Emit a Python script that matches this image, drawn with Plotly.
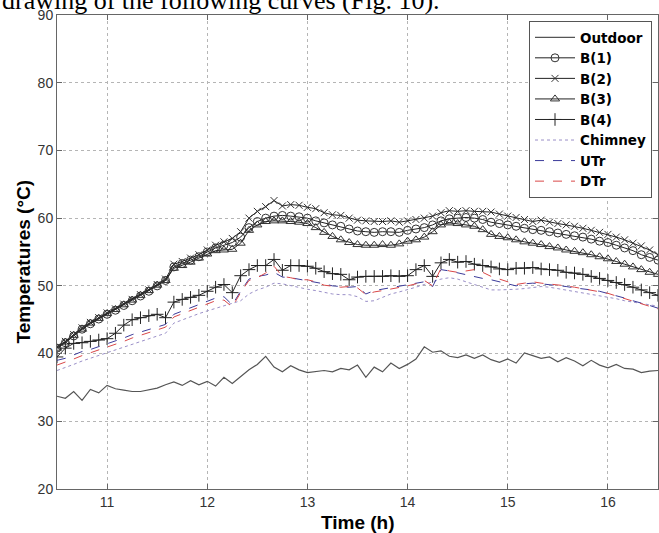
import plotly.graph_objects as go

# time axis: 5-minute samples from 10.5 h to 16.5 h
time_h = [10.5 + k / 12 for k in range(73)]

outdoor = [33.7, 33.4, 34.4, 33.1, 34.7, 34.2, 35.3, 34.8, 34.6, 34.4, 34.4, 34.6, 34.9, 35.4, 35.8, 35.3,
           36.0, 35.4, 35.9, 35.2, 36.5, 35.6, 36.6, 37.6, 38.4, 39.6, 38.0, 37.3, 38.2, 37.6, 37.2, 37.4,
           37.5, 37.3, 37.8, 37.6, 38.3, 36.5, 38.0, 37.3, 38.6, 37.8, 38.4, 39.2, 41.0, 40.2, 40.4, 39.6,
           39.4, 39.8, 39.3, 39.8, 39.1, 38.7, 39.2, 38.6, 40.1, 39.7, 39.3, 39.5, 38.8, 39.4, 38.9, 38.2,
           39.0, 38.3, 37.9, 38.4, 37.8, 37.7, 37.2, 37.4, 37.5]

b1 = [40.8, 41.6, 42.6, 43.6, 44.4, 45.1, 45.8, 46.4, 47.1, 47.8, 48.5, 49.2, 50.0, 50.8, 52.8, 53.3,
      53.8, 54.3, 55.0, 55.6, 56.0, 56.4, 57.2, 58.6, 59.5, 60.0, 60.3, 60.4, 60.3, 60.2, 60.0, 59.6,
      59.3, 59.0, 58.8, 58.4, 58.1, 58.0, 57.9, 58.0, 58.0, 57.9, 58.2, 58.4, 58.6, 59.0, 59.6, 59.9,
      60.0, 60.1, 60.0, 59.8, 59.4, 59.2, 59.0, 58.8, 58.5, 58.3, 58.2, 58.0, 57.8, 57.6, 57.4, 57.2,
      56.9, 56.6, 56.4, 56.0, 55.6, 55.2, 54.6, 54.2, 53.8]

b2 = [41.0, 41.8, 42.8, 43.8, 44.6, 45.3, 46.0, 46.6, 47.3, 48.0, 48.7, 49.4, 50.2, 51.0, 53.2, 53.6,
      54.1, 54.6, 55.3, 56.0, 56.5, 57.0, 58.0, 60.0, 61.0, 61.7, 62.6, 61.8, 62.0, 61.9, 61.6, 61.4,
      60.8, 60.5, 60.4, 60.0, 59.7, 59.6, 59.5, 59.5, 59.6, 59.4, 59.6, 59.8, 60.0, 60.3, 60.8, 61.1,
      61.0, 61.1, 61.0, 61.0, 60.9, 60.6, 60.3, 60.1, 59.8, 59.5, 59.7, 59.4, 59.2, 59.0, 58.8, 58.5,
      58.2, 57.9, 57.6, 57.2, 56.8, 56.3, 55.9, 55.3, 54.6]

b3 = [40.8, 41.7, 42.7, 43.6, 44.5, 45.2, 45.9, 46.5, 47.2, 47.9, 48.6, 49.3, 50.1, 50.8, 52.6, 53.0,
      53.5, 54.1, 54.7, 55.2, 55.3, 55.4, 56.3, 58.2, 59.0, 59.5, 59.6, 59.6, 59.5, 59.4, 59.2, 58.6,
      57.9, 57.3, 56.8, 56.4, 56.1, 56.0, 56.0, 56.1, 56.0, 56.2, 56.6, 56.8, 57.2, 58.0, 59.0, 59.3,
      59.2, 59.0, 58.8, 58.3, 57.6, 57.3, 57.1, 56.8, 56.5, 56.3, 56.1, 55.8, 55.6, 55.3, 55.1, 54.9,
      54.6, 54.3, 54.0, 53.6, 53.2, 52.8, 52.4, 52.0, 51.7]

b4 = [39.5, 40.8, 41.5, 41.6, 41.8, 42.0, 42.2, 43.0, 44.2, 45.0, 45.3, 45.6, 45.8, 45.3, 47.6, 48.0,
      48.3, 48.6, 49.2, 49.8, 50.2, 49.0, 51.5, 52.4, 53.0, 53.0, 53.9, 52.3, 53.0, 53.0, 52.9, 52.6,
      52.1, 51.8, 51.7, 50.9, 51.3, 51.4, 51.4, 51.4, 51.5, 51.4, 51.5, 52.4, 53.0, 51.4, 53.4, 53.9,
      53.5, 53.6, 53.2, 53.0, 52.8, 52.5, 52.4, 52.6, 52.6, 52.7, 52.5, 52.4, 52.3, 52.0, 51.9, 51.7,
      51.4, 51.1, 50.8, 50.5, 50.2, 49.8, 49.4, 49.0, 48.6]

chimney = [37.5, 37.9, 38.4, 38.9, 39.3, 39.7, 40.1, 40.5, 41.0, 41.4, 41.8, 42.2, 42.6, 43.0, 44.5, 45.0,
           45.4, 45.9, 46.3, 46.7, 47.0, 47.4, 47.8, 48.8, 49.4, 49.8, 50.4, 50.3, 50.0, 49.8, 49.5, 49.3,
           49.0, 48.8, 48.7, 48.7, 48.4, 47.7, 47.8, 48.3, 48.8, 49.1, 49.4, 49.8, 50.2, 50.6, 51.0, 51.2,
           51.0, 50.6, 50.2, 49.8, 49.4, 49.4, 49.4, 49.5, 49.6, 49.8, 49.9, 49.8, 49.6, 49.4, 49.2, 49.0,
           48.8, 48.6, 48.4, 48.1, 47.8, 47.6, 47.3, 47.1, 47.0]

utr = [39.0, 39.3, 39.8, 40.3, 40.6, 41.0, 41.4, 41.8, 42.3, 42.8, 43.2, 43.6, 44.0, 44.3, 45.8, 46.3,
       46.7, 47.2, 47.8, 48.2, 48.4, 47.2, 49.2, 51.0, 51.4, 51.6, 52.0, 51.3, 51.2, 51.0, 50.8, 50.6,
       50.3, 50.0, 49.9, 49.8, 49.9, 48.8, 49.3, 49.5, 49.7, 49.9, 50.1, 50.4, 50.6, 49.9, 52.4, 52.2,
       51.9, 51.6, 51.4, 51.1, 50.9, 50.6, 50.3, 50.0, 50.3, 50.4, 50.3, 50.2, 50.1, 49.9, 49.7, 49.6,
       49.4, 49.2, 48.9, 48.6, 48.2, 47.8, 47.5, 47.1, 46.7]

dtr = [38.3, 38.7, 39.2, 39.7, 40.1, 40.5, 40.9, 41.3, 41.8, 42.3, 42.7, 43.1, 43.5, 43.9, 45.4, 45.9,
       46.3, 46.8, 47.4, 47.8, 47.9, 46.9, 49.0, 50.8, 51.2, 51.9, 52.9, 51.4, 51.2, 50.9, 50.9, 50.6,
       50.1, 49.9, 49.8, 49.9, 49.7, 48.7, 49.1, 49.3, 49.5, 49.7, 50.0, 50.3, 50.8, 50.0, 52.6, 52.2,
       52.0, 52.2, 52.4, 52.0, 51.4, 51.0, 50.6, 50.2, 50.4, 50.6, 50.4, 50.3, 50.1, 50.0, 49.8, 49.6,
       49.4, 49.2, 48.9, 48.5, 48.1, 47.7, 47.3, 46.9, 46.6]

x_ticks = [11, 12, 13, 14, 15, 16]
y_ticks = [20, 30, 40, 50, 60, 70, 80, 90]

fig = go.Figure()

fig.add_trace(go.Scatter(x=time_h, y=outdoor, name="Outdoor", mode="lines",
                         line=dict(color="#555555", width=1.2)))
fig.add_trace(go.Scatter(x=time_h, y=b1, name="B(1)", mode="lines+markers",
                         line=dict(color="#222222", width=1),
                         marker=dict(symbol="circle-open", size=8, color="#333333", line=dict(width=1))))
fig.add_trace(go.Scatter(x=time_h, y=b2, name="B(2)", mode="lines+markers",
                         line=dict(color="#222222", width=1),
                         marker=dict(symbol="x-thin-open", size=7, color="#333333", line=dict(width=1))))
fig.add_trace(go.Scatter(x=time_h, y=b3, name="B(3)", mode="lines+markers",
                         line=dict(color="#222222", width=1),
                         marker=dict(symbol="triangle-up-open", size=8, color="#333333", line=dict(width=1))))
fig.add_trace(go.Scatter(x=time_h, y=b4, name="B(4)", mode="lines+markers",
                         line=dict(color="#222222", width=1),
                         marker=dict(symbol="cross-thin-open", size=9, color="#222222", line=dict(width=1))))
fig.add_trace(go.Scatter(x=time_h, y=chimney, name="Chimney", mode="lines",
                         line=dict(color="#9a8fc8", width=1, dash="dot")))
fig.add_trace(go.Scatter(x=time_h, y=utr, name="UTr", mode="lines",
                         line=dict(color="#3b3b9a", width=1, dash="dash")))
fig.add_trace(go.Scatter(x=time_h, y=dtr, name="DTr", mode="lines",
                         line=dict(color="#d94848", width=1, dash="dash")))

axis_common = dict(
    showline=True, linecolor="#666666", linewidth=1, mirror="ticks",
    ticks="inside", ticklen=5, tickcolor="#666666",
    showgrid=True, gridcolor="#b5b5b5", griddash="dot", gridwidth=1,
    zeroline=False,
    tickfont=dict(family="Arial, Liberation Sans", size=14, color="#333333"),
)

fig.update_xaxes(range=[10.5, 16.5], tickvals=x_ticks, ticktext=[str(v) for v in x_ticks], **axis_common)
fig.update_yaxes(range=[20, 90], tickvals=y_ticks, ticktext=[str(v) for v in y_ticks], **axis_common)

fig.update_layout(
    width=659, height=533,
    margin=dict(l=57, r=1, t=15, b=44),
    paper_bgcolor="white", plot_bgcolor="white",
    font=dict(family="Arial, Liberation Sans", color="black"),
    showlegend=True,
    legend=dict(
        x=(529 - 57) / 601, y=1 - (21 - 15) / 474, xanchor="left", yanchor="top",
        bgcolor="white", bordercolor="#555555", borderwidth=1,
        itemwidth=40,
        font=dict(family="DejaVu Sans", size=13.5, color="black", weight="bold"),
        tracegroupgap=0,
    ),
    annotations=[
        dict(text="Temperatures (°C)", xref="paper", yref="paper",
             x=(23 - 57) / 601, y=0.48, textangle=-90, showarrow=False,
             xanchor="center", yanchor="middle",
             font=dict(family="Arial, Liberation Sans", size=19, color="black", weight="bold")),
        dict(text="Time (h)", xref="paper", yref="paper",
             x=(358 - 57) / 601, y=-(522 - 489) / 474, showarrow=False,
             xanchor="center", yanchor="middle",
             font=dict(family="Arial, Liberation Sans", size=19, color="black", weight="bold")),
        dict(text="drawing of the following curves (Fig. 10).", xref="paper", yref="paper",
             x=-57 / 601, y=1 + 15 / 474, showarrow=False,
             xanchor="left", yanchor="middle",
             font=dict(family="Liberation Serif, Times New Roman", size=26, color="black")),
    ],
)

fig.write_html(
    "out.html",
    config={"displayModeBar": False},
    post_script="document.body.style.margin='0';document.body.style.padding='0';"
                "document.documentElement.style.overflow='hidden';",
)
